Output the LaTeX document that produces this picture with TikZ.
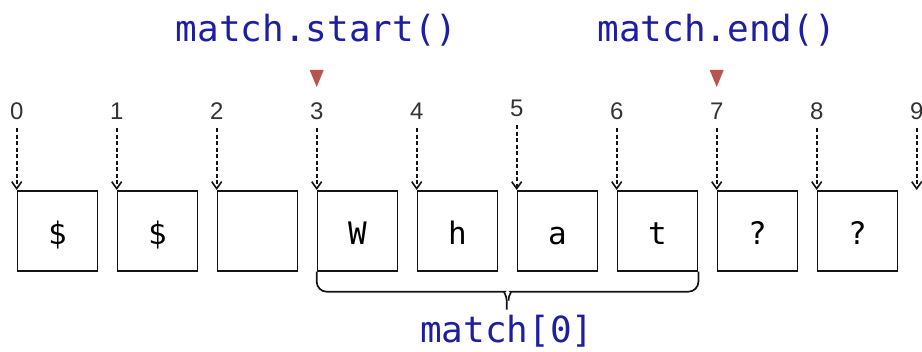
\documentclass[tikz,border=0pt]{standalone}
\usepackage{fontspec}
\setmainfont{Liberation Sans}
\newfontfamily\monofont{DejaVu Sans Mono}
\usetikzlibrary{arrows.meta}
\definecolor{codeblue}{RGB}{30,30,160}
\definecolor{markred}{RGB}{184,84,80}
\definecolor{idxgrey}{RGB}{51,51,51}
\definecolor{linegrey}{RGB}{20,20,20}
\begin{document}
\begin{tikzpicture}[x=1pt,y=-1pt,
  cell/.style={draw=linegrey, line width=1.7pt, minimum width=80pt, minimum height=80pt, inner sep=0pt, anchor=north west},
  chartext/.style={font=\monofont\fontsize{31}{34}\selectfont, text=black, inner sep=0pt, anchor=base},
  idx/.style={font=\fontsize{24}{26}\selectfont, text=idxgrey, inner sep=0pt, anchor=base, text height=18pt, text depth=0pt},
  idxarrow/.style={draw=linegrey, line width=1.7pt, dash pattern=on 4pt off 2.5pt, shorten <=8pt, -{Straight Barb[length=7pt,width=10pt,line width=1.6pt]}},
  code/.style={font=\monofont\fontsize{36}{40}\selectfont, text=codeblue, inner sep=0pt, anchor=base},
  brace/.style={draw=linegrey, line width=1.7pt},
  marker/.style={fill=markred}
]
\useasboundingbox (0,0) rectangle (922,352);

% cells
\foreach \i in {0,...,8}{
  \node[cell] (b\i) at ({16.7+100*\i},190) {};
}
\coordinate (b9) at (916.7,190);

% cell contents
\node[chartext] (c0) at (57.5,245) {\$};
\node[chartext] (c1) at (157.5,245) {\$};
\node[chartext] (c3) at (357.5,245) {W};
\node[chartext] (c4) at (457.5,245) {h};
\node[chartext] (c5) at (557.5,245) {a};
\node[chartext] (c6) at (657.5,245) {t};
\node[chartext] (c7) at (757.5,245) {?};
\node[chartext] (c8) at (857.5,245) {?};

% index labels and arrows
\foreach \i in {0,1,2,3,4,6,7,8,9}{
  \node[idx] (n\i) at ({16.7+100*\i},120) {\i};
}
\node[idx] (n5) at (516.7,117) {5};
\foreach \i in {0,...,8}{
  \draw[idxarrow] (n\i.south) -- (b\i.north west);
}
\draw[idxarrow] (n9.south) -- (b9);

% markers
\coordinate (t3) at (316.7,70);
\coordinate (t7) at (716.7,70);
\fill[marker] (t3) ++(-7,0) -- ++(14,0) -- ++(-7,17) -- cycle;
\fill[marker] (t7) ++(-7,0) -- ++(14,0) -- ++(-7,17) -- cycle;

% labels
\node[code] (ms) at (316.7,42) {match.start()};
\node[code] (me) at (716.7,42) {match.end()};
\node[code] (m0) at (506.7,343) {match[0]};

% brace
\draw[brace] (b3.south west) [rounded corners=10pt] |- ++(178,20) [sharp corners] .. controls +(8,0) and +(0,-6) .. ++(12,9) -- ++(0,9);
\draw[brace] (b6.south east) [rounded corners=10pt] |- ++(-178,20) [sharp corners] .. controls +(-8,0) and +(0,-6) .. ++(-12,9);
\end{tikzpicture}
\end{document}
